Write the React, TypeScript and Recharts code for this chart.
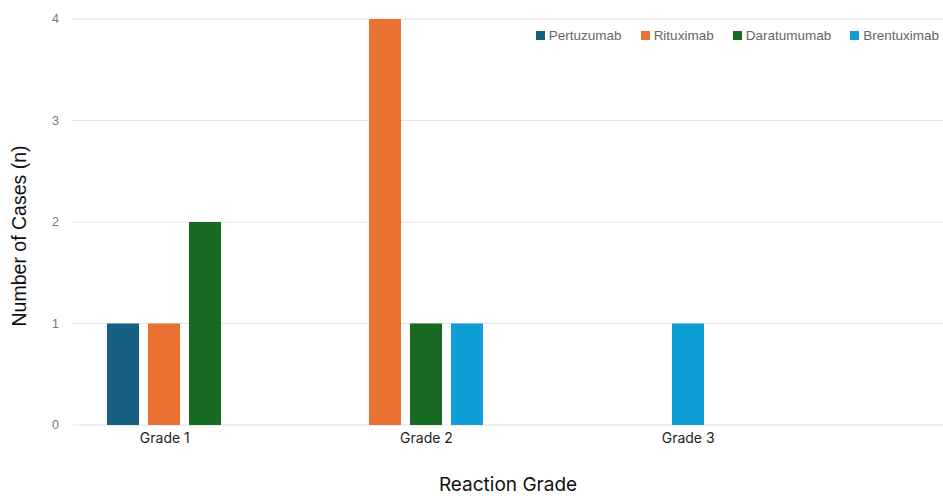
import { BarChart, Bar, XAxis, YAxis, CartesianGrid, Legend, Label } from "recharts";

const grades = ["Grade 1", "Grade 2", "Grade 3"];
const pertuzumab = [1, 0, 0];
const rituximab = [1, 4, 0];
const daratumumab = [2, 1, 0];
const brentuximab = [0, 1, 1];
const yTicks = [0, 1, 2, 3, 4];

const SERIES = [
  { key: "Pertuzumab", color: "#156082" },
  { key: "Rituximab", color: "#E97132" },
  { key: "Daratumumab", color: "#196B24" },
  { key: "Brentuximab", color: "#0F9ED5" },
];

const data = grades.map((g, i) => ({
  grade: g,
  Pertuzumab: pertuzumab[i],
  Rituximab: rituximab[i],
  Daratumumab: daratumumab[i],
  Brentuximab: brentuximab[i],
}));

// simple legend: small squares + grey text in one row
function LegendRow() {
  return (
    <div style={{ display: "flex", gap: 19, fontFamily: "Liberation Sans, Arial, sans-serif", fontSize: 13.5, color: "#666" }}>
      {SERIES.map(s => (
        <div key={s.key} style={{ display: "flex", alignItems: "center", gap: 4 }}>
          <span style={{ width: 9, height: 9, background: s.color, display: "inline-block" }} />
          <span>{s.key}</span>
        </div>
      ))}
    </div>
  );
}

export default function App() {
  return (
    <div style={{ position: "absolute", left: 0, top: 0, background: "#fff" }}>
      <BarChart
        width={943}
        height={496}
        data={data}
        margin={{ top: 19, right: 0, bottom: 0, left: 0 }}
        barGap={9}
        barCategoryGap={34}
      >
        <CartesianGrid vertical={false} stroke="#e2e2e2" strokeWidth={1.2} />
        <XAxis dataKey="grade" hide height={0} padding={{ left: 0, right: 207 }} />
        <XAxis
          xAxisId="labels"
          dataKey="grade"
          padding={{ left: -39, right: 124 }}
          axisLine={false}
          tickLine={false}
          tickSize={0}
          tickMargin={8}
          height={71}
          tick={{ fill: "#222", fontSize: 14, fontFamily: "Inter, sans-serif" }}
        >
          <Label
            content={(props: any) => {
              const vb = props.viewBox;
              return (
                <text
                  x={vb.x + vb.width / 2}
                  y={484}
                  textAnchor="middle"
                  dominantBaseline="central"
                  fontSize={19}
                  fontFamily="Inter, sans-serif"
                  fill="#111"
                >
                  Reaction Grade
                </text>
              );
            }}
          />
        </XAxis>
        <YAxis
          domain={[0, 4]}
          ticks={yTicks}
          width={73}
          axisLine={false}
          tickLine={false}
          tickSize={0}
          tickMargin={14}
          tick={{ fill: "#777", fontSize: 12.5, fontFamily: "Liberation Sans, Arial, sans-serif" }}
        >
          <Label
            content={() => (
              <text
                x={19}
                y={236}
                transform="rotate(-90 19 236)"
                textAnchor="middle"
                dominantBaseline="central"
                fontSize={19.5}
                fontFamily="Liberation Sans, Arial, sans-serif"
                fill="#111"
              >
                Number of Cases (n)
              </text>
            )}
          />
        </YAxis>
        <Legend
          verticalAlign="middle"
          align="center"
          content={<LegendRow />}
          wrapperStyle={{ top: 28, right: 4, left: "auto", width: "auto" }}
        />
        {SERIES.map(s => (
          <Bar key={s.key} dataKey={s.key} fill={s.color} isAnimationActive={false} />
        ))}
      </BarChart>
    </div>
  );
}
